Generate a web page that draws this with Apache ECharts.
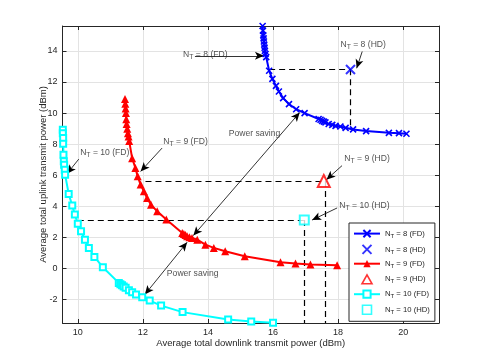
<!DOCTYPE html>
<html><head><meta charset="utf-8">
<script src="https://cdn.jsdelivr.net/npm/echarts@6/dist/echarts.min.js"></script>
<style>html,body{margin:0;padding:0;background:#fff}#c{width:485px;height:364px}</style>
</head><body><div id="c"></div>
<script>
// ---- data ----
var xTicks = [10, 12, 14, 16, 18, 20];
var yTicks = [-2, 0, 2, 4, 6, 8, 10, 12, 14];

var fd8X = [15.68,15.69,15.70,15.71,15.72,15.73,15.74,15.75,15.77,15.79,15.88,15.98,16.09,16.18,16.31,16.49,16.71,16.97,17.40,17.46,17.51,17.56,17.61,17.71,17.82,17.92,18.07,18.23,18.46,18.86,19.56,19.87,20.10];
var fd8Y = [15.6,15.3,15.0,14.8,14.6,14.4,14.2,14.0,13.8,13.6,12.72,12.2,11.75,11.39,10.96,10.58,10.25,10.0,9.62,9.57,9.5,9.45,9.4,9.3,9.24,9.18,9.14,9.05,8.95,8.84,8.73,8.71,8.67];

var fd9X = [11.45,11.46,11.47,11.48,11.49,11.5,11.52,11.54,11.56,11.58,11.67,11.77,11.84,11.93,12.03,12.13,12.25,12.44,12.72,13.21,13.26,13.31,13.36,13.43,13.51,13.67,13.92,14.18,14.53,15.13,16.23,16.69,17.15,17.97];
var fd9Y = [10.9,10.6,10.3,10.0,9.6,9.3,9.0,8.7,8.5,8.2,7.1,6.47,5.93,5.4,4.97,4.54,4.11,3.68,3.15,2.29,2.22,2.16,2.08,2.02,1.97,1.86,1.54,1.33,1.11,0.79,0.41,0.32,0.26,0.21];

var fd10X = [9.54,9.54,9.55,9.55,9.56,9.57,9.58,9.6,9.61,9.72,9.83,9.91,10.0,10.1,10.22,10.34,10.51,10.77,11.26,11.31,11.36,11.41,11.47,11.57,11.67,11.79,11.98,12.21,12.56,13.22,14.62,15.33,16.0];
var fd10Y = [8.93,8.7,8.39,8.03,7.32,6.9,6.68,6.36,6.04,4.8,4.05,3.47,2.89,2.4,1.86,1.33,0.75,0.09,-0.92,-1.0,-1.07,-1.15,-1.24,-1.39,-1.52,-1.67,-1.84,-2.06,-2.38,-2.8,-3.28,-3.4,-3.49];

var hd8 = [18.38, 12.8];
var hd9 = [17.56, 5.63];
var hd10 = [16.96, 3.12];

var xMin = 9.53, xMax = 21.1, yMin = -3.5, yMax = 15.6;

// dashed guide segments [x1,y1,x2,y2]
var guides = [
  [15.88, 12.82, 18.38, 12.82],
  [18.38, 12.82, 18.38, 8.95],
  [12.08, 5.63, 17.56, 5.63],
  [17.59, 5.63, 17.59, -3.5],
  [10.0, 3.12, 16.96, 3.12],
  [16.96, 3.12, 16.96, -3.5]
];
// annotation texts
var noteText = ['N{sub|T} = 8 (FD)', 'N{sub|T} = 8 (HD)', 'N{sub|T} = 9 (FD)', 'N{sub|T} = 10 (FD)', 'N{sub|T} = 9 (HD)', 'N{sub|T} = 10 (HD)', 'Power saving', 'Power saving'];
var noteX = [13.92, 18.77, 13.31, 10.83, 18.89, 18.81, 15.43, 13.53];
var noteY = [13.74, 14.39, 8.18, 7.47, 7.1, 4.05, 8.65, -0.34];
// arrows [x1,y1,x2,y2,double]
var arrows = [
  [13.6, 13.68, 15.72, 13.68, 0],
  [18.74, 13.96, 18.57, 12.88, 0],
  [12.59, 7.75, 11.93, 6.25, 0],
  [10.03, 7.04, 9.67, 6.1, 0],
  [18.12, 6.62, 17.64, 5.72, 0],
  [17.97, 3.9, 17.2, 3.12, 0],
  [13.55, 2.12, 16.82, 10.04, 1],
  [12.06, -1.67, 13.36, 1.69, 1]
];
var legendNames = ['N{sub|T} = 8 (FD)', 'N{sub|T} = 8 (HD)', 'N{sub|T} = 9 (FD)', 'N{sub|T} = 9 (HD)', 'N{sub|T} = 10 (FD)', 'N{sub|T} = 10 (HD)'];

// ---- build ----
function zip(a, b) { return a.map(function (v, i) { return [v, b[i]]; }); }
var TXT = '#262626';
var FONT = 'Liberation Sans, Arial, sans-serif';
var xPath = 'path://M0,0L10,10M0,10L10,0';
var triPath = 'path://M5,0L10,9L0,9Z';
var sqPath = 'path://M0,0L10,0L10,10L0,10Z';
var richNote = { sub: { fontSize: 6.8, fontFamily: FONT, color: TXT, padding: [5, 0, 0, 0] } };
var richLeg = { sub: { fontSize: 6, fontFamily: FONT, color: TXT, padding: [5, 0, 0, 0] } };

function axisCommon(show) {
  return {
    axisLine: { show: true, onZero: false, lineStyle: { color: TXT, width: 1 } },
    axisTick: { show: true, inside: true, length: 4, lineStyle: { color: TXT } },
    axisLabel: { show: show, color: TXT, fontSize: 9, fontFamily: FONT },
    splitLine: { show: show, lineStyle: { color: '#e3e3e3', width: 1 } }
  };
}
function xAxis(pos, show) {
  var a = axisCommon(show);
  return Object.assign({ type: 'value', position: pos, min: xMin, max: xMax, gridIndex: 0,
    axisLine: a.axisLine,
    axisTick: Object.assign({ customValues: xTicks }, a.axisTick),
    axisLabel: Object.assign({ customValues: xTicks, margin: 5 }, a.axisLabel),
    splitLine: a.splitLine
  }, show ? { name: 'Average total downlink transmit power (dBm)', nameLocation: 'middle', nameGap: 15,
    nameMoveOverlap: false,
    nameTextStyle: { color: TXT, fontSize: 9.5, fontFamily: FONT } } : {});
}
function yAxis(pos, show) {
  var a = axisCommon(show);
  return Object.assign({ type: 'value', position: pos, min: yMin, max: yMax, gridIndex: 0,
    axisLine: a.axisLine,
    axisTick: Object.assign({ customValues: yTicks }, a.axisTick),
    axisLabel: Object.assign({ customValues: yTicks, margin: 5 }, a.axisLabel),
    splitLine: a.splitLine
  }, show ? { name: 'Average total uplink transmit power (dBm)', nameLocation: 'middle', nameGap: 14,
    nameMoveOverlap: false,
    nameTextStyle: { color: TXT, fontSize: 9.5, fontFamily: FONT } } : {});
}

var guideLines = guides.map(function (g) { return [{ coord: [g[0], g[1]] }, { coord: [g[2], g[3]] }]; });
var arrowLines = arrows.map(function (a) {
  return [{ coord: [a[0], a[1]], symbol: a[4] ? 'arrow' : 'none' }, { coord: [a[2], a[3]], symbol: 'arrow' }];
});
var notes = noteText.map(function (t, i) { return { name: t, value: [noteX[i], noteY[i]] }; });

var series = [
  { name: legendNames[0], type: 'line', data: zip(fd8X, fd8Y), symbol: xPath, symbolSize: 6, showAllSymbol: true,
    lineStyle: { color: '#0000ff', width: 2 }, itemStyle: { color: '#0000ff', borderColor: '#0000ff', borderWidth: 1.6 }, z: 5 },
  { name: legendNames[1], type: 'scatter', data: [hd8], symbol: xPath, symbolSize: 9,
    itemStyle: { color: '#0000ff', borderColor: '#0000ff', borderWidth: 2 }, z: 6 },
  { name: legendNames[2], type: 'line', data: zip(fd9X, fd9Y), symbol: 'triangle', symbolSize: 8, showAllSymbol: true,
    lineStyle: { color: '#ff0000', width: 2 }, itemStyle: { color: '#ff0000' }, z: 5 },
  { name: legendNames[3], type: 'scatter', data: [hd9], symbol: 'emptyTriangle', symbolSize: 12,
    itemStyle: { color: '#ff0000', borderColor: '#ff0000', borderWidth: 1.6 }, z: 6 },
  { name: legendNames[4], type: 'line', data: zip(fd10X, fd10Y), symbol: 'emptyRect', symbolSize: 6, showAllSymbol: true,
    lineStyle: { color: '#00ffff', width: 2 }, itemStyle: { color: '#00ffff', borderColor: '#00ffff', borderWidth: 1.5 }, z: 5 },
  { name: legendNames[5], type: 'scatter', data: [hd10], symbol: 'emptyRect', symbolSize: 9,
    itemStyle: { color: '#00ffff', borderColor: '#00ffff', borderWidth: 1.6 }, z: 6 },
  { name: 'guides', type: 'line', data: [], z: 3,
    markLine: { silent: true, symbol: ['none', 'none'], label: { show: false },
      lineStyle: { color: '#000', type: [6, 4], width: 1.2 }, data: guideLines, animation: false } },
  { name: 'notes', type: 'scatter', data: notes, symbolSize: 0, z: 8,
    label: { show: true, position: 'inside', formatter: function (p) { return p.name; },
      color: TXT, fontSize: 8.6, fontFamily: FONT, rich: richNote },
    markLine: { silent: true, symbolSize: [6, 9], label: { show: false },
      lineStyle: { color: '#000', type: 'solid', width: 0.8 }, data: arrowLines, animation: false } }
];

var legendData = [
  { name: legendNames[0] },
  { name: legendNames[1], icon: xPath, itemStyle: { color: '#0000ff', borderColor: '#0000ff', borderWidth: 2 } },
  { name: legendNames[2] },
  { name: legendNames[3], icon: triPath, itemStyle: { color: '#ffffff', borderColor: '#ff0000', borderWidth: 1.6 } },
  { name: legendNames[4] },
  { name: legendNames[5], icon: sqPath, itemStyle: { color: '#ffffff', borderColor: '#00ffff', borderWidth: 1.6 } }
];

var chart = echarts.init(document.getElementById('c'), null, { renderer: 'canvas' });
chart.setOption({
  animation: false,
  backgroundColor: '#fff',
  grid: { left: 62.5, right: 46, top: 26, bottom: 41 },
  xAxis: [xAxis('bottom', true), xAxis('top', false)],
  yAxis: [yAxis('left', true), yAxis('right', false)],
  legend: {
    data: legendData, orient: 'vertical', left: 349, top: 223,
    padding: [6, 5, 6, 4], itemGap: 4.8, itemWidth: 26, itemHeight: 9,
    backgroundColor: '#fff', borderColor: TXT, borderWidth: 1, borderRadius: 0,
    textStyle: { color: TXT, fontSize: 7.7, fontFamily: FONT, rich: richLeg },
    formatter: function (n) { return n; }
  },
  series: series
});
</script></body></html>
